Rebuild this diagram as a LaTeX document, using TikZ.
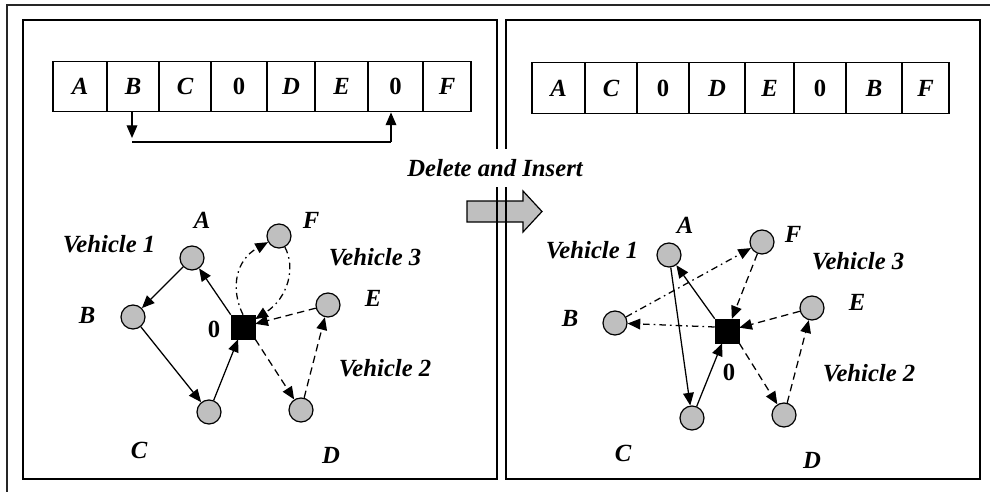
\documentclass[tikz,border=0pt]{standalone}
\usepackage{fontspec}
\setmainfont{Liberation Serif}
\usetikzlibrary{arrows.meta,calc}
\begin{document}
\begin{tikzpicture}[x=0.75pt,y=-0.75pt,
  lbl/.style={font=\fontsize{18.5}{21}\selectfont\bfseries\itshape, inner sep=0pt},
  zlbl/.style={font=\fontsize{18.5}{21}\selectfont\bfseries, inner sep=0pt},
  cell/.style={draw, line width=0.9pt, minimum width=#1*0.75pt, minimum height=38pt, inner sep=0pt,
    font=\fontsize{18.5}{21}\selectfont\bfseries\itshape},
  zcell/.style={cell=#1, font=\fontsize{18.5}{21}\selectfont\bfseries},
  stop/.style={circle, draw, line width=0.9pt, fill=black!25, minimum size=18pt, inner sep=0pt},
  depot/.style={rectangle, fill=black, draw=black, minimum size=18pt, inner sep=0pt},
  edge/.style={line width=0.95pt, -{Triangle[length=9.5pt,width=8pt]}},
  dsh/.style={dash pattern=on 5.5pt off 3.5pt},
  dshdot/.style={dash pattern=on 5pt off 3pt on 1.2pt off 3pt},
  panel/.style={draw, line width=1.2pt}]
\useasboundingbox (0,0) rectangle (990,492);
% outer frame
\draw[line width=0.9pt, black!85] (7,492) -- (7,5) -- (990,5);
% big block arrow (behind panels)
\draw[line width=0.9pt, fill=black!25] (467,201) -- (523,201) -- (523,191) -- (542,211.5) -- (523,232) -- (523,222) -- (467,222) -- cycle;
% panels
\draw[panel] (23,20) rectangle (497,479);
\draw[panel] (506,20) rectangle (980,479);
% label over the arrow
\node[lbl, fill=white, minimum height=28pt, inner xsep=2pt] (di) at (495,168) {Delete and Insert};
% left array
\node[cell=54] (a1) at (80,86.5) {A};
\node[cell=52] (a2) at (133,86.5) {B};
\node[cell=52] (a3) at (185,86.5) {C};
\node[zcell=56] (a4) at (239,86.5) {0};
\node[cell=48] (a5) at (291,86.5) {D};
\node[cell=53] (a6) at (341.5,86.5) {E};
\node[zcell=55] (a7) at (395.5,86.5) {0};
\node[cell=48] (a8) at (447,86.5) {F};
% right array
\node[cell=53] (b1) at (558.5,88) {A};
\node[cell=52] (b2) at (611,88) {C};
\node[zcell=52] (b3) at (663,88) {0};
\node[cell=56] (b4) at (717,88) {D};
\node[cell=49] (b5) at (769.5,88) {E};
\node[zcell=52] (b6) at (820,88) {0};
\node[cell=56] (b7) at (874,88) {B};
\node[cell=47] (b8) at (925.5,88) {F};
% move arrow under the left array
\coordinate (tl) at (132,142);
\coordinate (tr) at (391,142);
\coordinate (tipl) at (132,138);
\draw[line width=0.9pt] (tl) -- (tr);
\draw[edge] (a2.south -| tl) -- (tipl);
\draw[edge] (tr) -- (tr |- a7.south);
% left graph
\node[stop] (lA) at (192,258) {};
\node[stop] (lB) at (133,317) {};
\node[stop] (lC) at (209,412) {};
\node[stop] (lD) at (301,410) {};
\node[stop] (lE) at (328,305) {};
\node[stop] (lF) at (279,236) {};
\node[depot] (l0) at (243,327) {};
\draw[edge] (l0.north west) -- (lA);
\draw[edge] (lA) -- (lB);
\draw[edge] (lB) -- (lC);
\draw[edge] (lC) -- (l0);
\draw[edge,dsh] (lE) -- (l0);
\draw[edge,dsh] (l0.south east) -- (lD);
\draw[edge,dsh] (lD) -- (lE);
\draw[edge,dshdot] (l0.north) .. controls (230,288) and (236,260) .. (lF);
\draw[edge,dshdot] (lF) .. controls (296,268) and (288,298) .. (l0);
\node[lbl] (tlA) at (202,220) {A};
\node[lbl] (tlF) at (311,220) {F};
\node[lbl] (tlV1) at (109,244) {Vehicle 1};
\node[lbl] (tlV3) at (375,257) {Vehicle 3};
\node[lbl] (tlE) at (373,298) {E};
\node[lbl] (tlB) at (87,315) {B};
\node[zlbl] (tl0) at (214,329) {0};
\node[lbl] (tlV2) at (385,368) {Vehicle 2};
\node[lbl] (tlC) at (139,450) {C};
\node[lbl] (tlD) at (331,455) {D};
% right graph
\node[stop] (rA) at (669,255) {};
\node[stop] (rB) at (615,323) {};
\node[stop] (rC) at (692,418) {};
\node[stop] (rD) at (784,415) {};
\node[stop] (rE) at (812,308) {};
\node[stop] (rF) at (762,242) {};
\node[depot] (r0) at (727,331) {};
\draw[edge] (r0.north west) -- (rA);
\draw[edge] (rA) -- (rC);
\draw[edge] (rC) -- (r0);
\draw[edge,dshdot] (r0.west) ++(0,-4) -- (rB);
\draw[edge,dshdot] (rB) -- (rF);
\draw[edge,dsh] (rF) -- (r0);
\draw[edge,dsh] (rE) -- (r0);
\draw[edge,dsh] (r0.south east) -- (rD);
\draw[edge,dsh] (rD) -- (rE);
\node[lbl] (trA) at (685,225) {A};
\node[lbl] (trF) at (793,234) {F};
\node[lbl] (trV1) at (592,250) {Vehicle 1};
\node[lbl] (trV3) at (858,261) {Vehicle 3};
\node[lbl] (trE) at (857,302) {E};
\node[lbl] (trB) at (570,318) {B};
\node[zlbl] (tr0) at (729,372) {0};
\node[lbl] (trV2) at (869,373) {Vehicle 2};
\node[lbl] (trC) at (623,453) {C};
\node[lbl] (trD) at (812,460) {D};
\end{tikzpicture}
\end{document}
